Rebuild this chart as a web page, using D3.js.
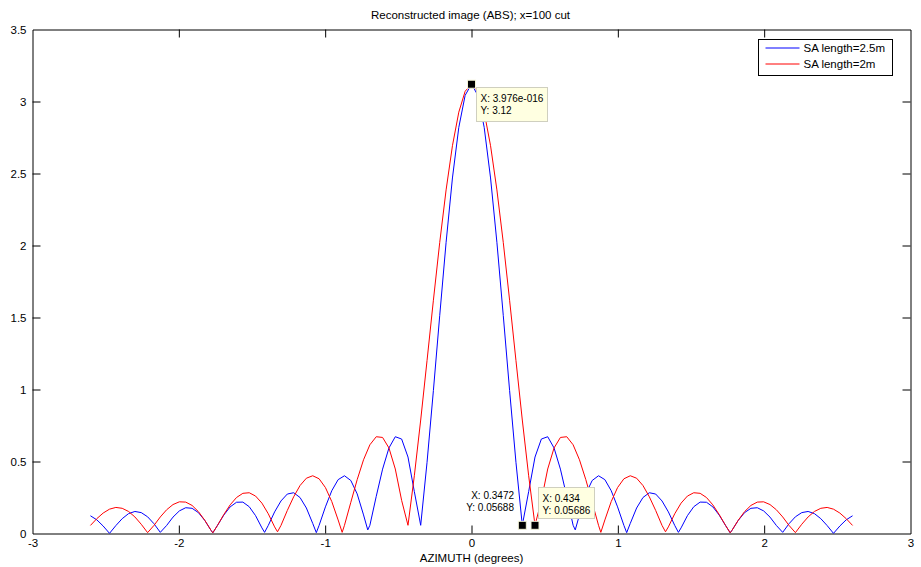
<!DOCTYPE html>
<html>
<head>
<meta charset="utf-8">
<script src="https://cdn.jsdelivr.net/npm/d3@7"></script>
<style>
  html, body { margin: 0; padding: 0; background: #ffffff; }
  svg { display: block; font-family: "Liberation Sans", Arial, Helvetica, sans-serif; }
</style>
</head>
<body>
<svg id="chart" width="921" height="567"></svg>
<script>
// Azimuth sample grid (degrees) shared by both cuts
const azimuth = [
  -2.6040, -2.5606, -2.5172, -2.4738, -2.4304, -2.3870, -2.3436, -2.3002, -2.2568, -2.2134,
  -2.1700, -2.1266, -2.0832, -2.0398, -1.9964, -1.9530, -1.9096, -1.8662, -1.8228, -1.7794,
  -1.7360, -1.6926, -1.6492, -1.6058, -1.5624, -1.5190, -1.4756, -1.4322, -1.3888, -1.3454,
  -1.3020, -1.2586, -1.2152, -1.1718, -1.1284, -1.0850, -1.0416, -0.9982, -0.9548, -0.9114,
  -0.8680, -0.8246, -0.7812, -0.7378, -0.6944, -0.6510, -0.6076, -0.5642, -0.5208, -0.4774,
  -0.4340, -0.3906, -0.3472, -0.3038, -0.2604, -0.2170, -0.1736, -0.1302, -0.0868, -0.0434,
  0,
  0.0434, 0.0868, 0.1302, 0.1736, 0.2170, 0.2604, 0.3038, 0.3472, 0.3906, 0.4340,
  0.4774, 0.5208, 0.5642, 0.6076, 0.6510, 0.6944, 0.7378, 0.7812, 0.8246, 0.8680,
  0.9114, 0.9548, 0.9982, 1.0416, 1.0850, 1.1284, 1.1718, 1.2152, 1.2586, 1.3020,
  1.3454, 1.3888, 1.4322, 1.4756, 1.5190, 1.5624, 1.6058, 1.6492, 1.6926, 1.7360,
  1.7794, 1.8228, 1.8662, 1.9096, 1.9530, 1.9964, 2.0398, 2.0832, 2.1266, 2.1700,
  2.2134, 2.2568, 2.3002, 2.3436, 2.3870, 2.4304, 2.4738, 2.5172, 2.5606, 2.6040
];

// |image| along the cut, synthetic aperture length 2.5 m
const absLong = [
  0.123, 0.095, 0.052, 0.001, 0.055, 0.103, 0.138, 0.153, 0.145, 0.116,
  0.068, 0.008, 0.056, 0.114, 0.157, 0.179, 0.175, 0.145, 0.091, 0.021,
  0.056, 0.128, 0.185, 0.217, 0.218, 0.186, 0.124, 0.039, 0.056, 0.150,
  0.226, 0.274, 0.283, 0.250, 0.177, 0.070, 0.056, 0.185, 0.297, 0.374,
  0.401, 0.368, 0.275, 0.129, 0.057, 0.258, 0.447, 0.594, 0.672, 0.656,
  0.531, 0.291, 0.05688, 0.494, 0.993, 1.515, 2.022, 2.469, 2.820, 3.043,
  3.12,
  3.043, 2.820, 2.469, 2.022, 1.515, 0.993, 0.494, 0.05688, 0.291, 0.531,
  0.656, 0.672, 0.594, 0.447, 0.258, 0.057, 0.129, 0.275, 0.368, 0.401,
  0.374, 0.297, 0.185, 0.056, 0.070, 0.177, 0.250, 0.283, 0.274, 0.226,
  0.150, 0.056, 0.039, 0.124, 0.186, 0.218, 0.217, 0.185, 0.128, 0.056,
  0.021, 0.091, 0.145, 0.175, 0.179, 0.157, 0.114, 0.056, 0.008, 0.068,
  0.116, 0.145, 0.153, 0.138, 0.103, 0.055, 0.001, 0.052, 0.095, 0.123
];

// |image| along the cut, synthetic aperture length 2 m
const absShort = [
  0.056, 0.103, 0.142, 0.169, 0.181, 0.175, 0.153, 0.115, 0.064, 0.006,
  0.056, 0.115, 0.165, 0.201, 0.220, 0.218, 0.195, 0.152, 0.092, 0.021,
  0.056, 0.132, 0.199, 0.250, 0.279, 0.283, 0.260, 0.211, 0.137, 0.046,
  0.056, 0.160, 0.255, 0.333, 0.384, 0.401, 0.380, 0.319, 0.222, 0.094,
  0.057, 0.217, 0.374, 0.512, 0.616, 0.672, 0.667, 0.594, 0.448, 0.230,
  0.05686, 0.401, 0.788, 1.201, 1.620, 2.022, 2.386, 2.693, 2.926, 3.071,
  3.12,
  3.071, 2.926, 2.693, 2.386, 2.022, 1.620, 1.201, 0.788, 0.401, 0.05686,
  0.230, 0.448, 0.594, 0.667, 0.672, 0.616, 0.512, 0.374, 0.217, 0.057,
  0.094, 0.222, 0.319, 0.380, 0.401, 0.384, 0.333, 0.255, 0.160, 0.056,
  0.046, 0.137, 0.211, 0.260, 0.283, 0.279, 0.250, 0.199, 0.132, 0.056,
  0.021, 0.092, 0.152, 0.195, 0.218, 0.220, 0.201, 0.165, 0.115, 0.056,
  0.006, 0.064, 0.115, 0.153, 0.175, 0.181, 0.169, 0.142, 0.103, 0.056
];

// Extra samples at the deep side-lobe nulls
const longNullAzimuth = [-1.7675, -1.4140, -1.0605, -0.7090, 0.7090, 1.0605, 1.4140, 1.7675];
const longNullAbs     = [0.005, 0.008, 0.006, 0.025, 0.025, 0.006, 0.008, 0.005];
const shortNullAzimuth = [-1.7676, -1.3257, -0.8838, 0.8838, 1.3257, 1.7676];
const shortNullAbs     = [0.005, 0.012, 0.008, 0.008, 0.012, 0.005];

const seriesNames = ["SA length=2.5m", "SA length=2m"];
const seriesColors = ["#0000ff", "#ff0000"];

const xTicks = [-3, -2, -1, 0, 1, 2, 3];
const yTicks = [0, 0.5, 1, 1.5, 2, 2.5, 3, 3.5];

// Data cursors: X / Y readouts as shown in the tips
const tipX = ["3.976e-016", "0.3472", "0.434"];
const tipY = ["3.12", "0.05688", "0.05686"];
const tipSide = ["below-right", "above-left", "above-right"];

const titleText = "Reconstructed image (ABS); x=100 cut";
const xLabelText = "AZIMUTH (degrees)";

// ---------------------------------------------------------------
const svg = d3.select("#chart");
const W = 921, H = 567;
const plot = { left: 32.5, right: 910.5, top: 29.5, bottom: 533.5 };

svg.append("rect").attr("width", W).attr("height", H).attr("fill", "#ffffff");

const x = d3.scaleLinear().domain([-3, 3]).range([plot.left, plot.right]);
const y = d3.scaleLinear().domain([0, 3.5]).range([plot.bottom, plot.top]);

function mergePoints(xs, ys, nx, ny) {
  const pts = xs.map((v, i) => [v, ys[i]]);
  nx.forEach((v, i) => pts.push([v, ny[i]]));
  return pts.sort((a, b) => a[0] - b[0]);
}

const series = [
  mergePoints(azimuth, absLong, longNullAzimuth, longNullAbs),
  mergePoints(azimuth, absShort, shortNullAzimuth, shortNullAbs)
];

// plot frame
svg.append("rect")
  .attr("x", plot.left).attr("y", plot.top)
  .attr("width", plot.right - plot.left).attr("height", plot.bottom - plot.top)
  .attr("fill", "#ffffff").attr("stroke", "none");

const tickLen = 8;
const fontSize = "11.5px";

// bottom axis
const gx = svg.append("g").attr("transform", `translate(0,${plot.bottom})`)
  .call(d3.axisBottom(x).tickValues(xTicks).tickFormat(d => String(d))
        .tickSizeInner(-tickLen).tickSizeOuter(0).tickPadding(5));
// left axis
const gy = svg.append("g").attr("transform", `translate(${plot.left},0)`)
  .call(d3.axisLeft(y).tickValues(yTicks).tickFormat(d => String(d))
        .tickSizeInner(-tickLen).tickSizeOuter(0).tickPadding(6));
// top & right axes: inward ticks, no labels
const gt = svg.append("g").attr("transform", `translate(0,${plot.top})`)
  .call(d3.axisTop(x).tickValues(xTicks).tickFormat("")
        .tickSizeInner(-tickLen).tickSizeOuter(0));
const gr = svg.append("g").attr("transform", `translate(${plot.right},0)`)
  .call(d3.axisRight(y).tickValues(yTicks).tickFormat("")
        .tickSizeInner(-tickLen).tickSizeOuter(0));

[gx, gy, gt, gr].forEach(g => {
  g.selectAll(".domain").attr("stroke", "#000").attr("stroke-width", 1);
  g.selectAll(".tick line").attr("stroke", "#000").attr("stroke-width", 1);
  g.selectAll(".tick text").attr("fill", "#000").style("font-size", fontSize)
    .style("font-family", '"Liberation Sans", Arial, sans-serif');
});
// drop the end ticks that coincide with the frame
gx.selectAll(".tick").filter(d => d === -3 || d === 3).select("line").remove();
gt.selectAll(".tick").filter(d => d === -3 || d === 3).select("line").remove();
gy.selectAll(".tick").filter(d => d === 0 || d === 3.5).select("line").remove();
gr.selectAll(".tick").filter(d => d === 0 || d === 3.5).select("line").remove();

// curves
const line = d3.line().x(d => x(d[0])).y(d => y(d[1])).curve(d3.curveLinear);
series.forEach((pts, i) => {
  svg.append("path")
    .datum(pts)
    .attr("d", line)
    .attr("fill", "none")
    .attr("stroke", seriesColors[i])
    .attr("stroke-width", 1)
    .attr("stroke-linejoin", "round");
});

// title and axis label
svg.append("text")
  .attr("x", x(0) - 1).attr("y", 19)
  .attr("text-anchor", "middle")
  .style("font-size", fontSize).attr("fill", "#000")
  .text(titleText);

svg.append("text")
  .attr("x", x(0)).attr("y", 562)
  .attr("text-anchor", "middle")
  .style("font-size", fontSize).attr("fill", "#000")
  .text(xLabelText);

// legend
const lg = svg.append("g").attr("transform", "translate(758.5,39.5)");
lg.append("rect").attr("width", 134).attr("height", 36)
  .attr("fill", "#ffffff").attr("stroke", "#000").attr("stroke-width", 1);
seriesNames.forEach((name, i) => {
  const yy = 8.5 + i * 16;
  lg.append("line").attr("x1", 7).attr("x2", 41).attr("y1", yy).attr("y2", yy)
    .attr("stroke", seriesColors[i]).attr("stroke-width", 1);
  lg.append("text").attr("x", 45).attr("y", yy + 4)
    .style("font-size", fontSize).attr("fill", "#000").text(name);
});

// data tips
const tipFont = 10;
tipX.forEach((tx, i) => {
  const vx = +tx, vy = +tipY[i];
  const px = x(vx), py = y(vy);
  const g = svg.append("g");
  const lines = ["X: " + tx, "Y: " + tipY[i]];
  const side = tipSide[i];

  const txt = g.append("g");
  let bx, by;
  const lineH = 12.4;
  const tmp = txt.append("text").style("font-size", tipFont + "px").text(lines[0]);
  const tmp2 = txt.append("text").style("font-size", tipFont + "px").text(lines[1]);
  const tw = Math.max(tmp.node().getComputedTextLength(), tmp2.node().getComputedTextLength());
  tmp.remove(); tmp2.remove();
  const bw = Math.round(tw + 8), bh = 34;

  if (side === "below-right") { bx = Math.round(px) + 4.5; by = Math.round(py) + 3.5; }
  else if (side === "above-right") { bx = Math.round(px) + 3.5; by = Math.round(py) - 37.5; }
  else { bx = Math.round(px) - bw - 6; by = Math.round(py) - 40.5; }

  if (side !== "above-left") {
    g.append("rect").attr("x", bx).attr("y", by).attr("width", bw).attr("height", bh - (side === "above-right" ? 3 : 0))
      .attr("fill", "#ffffe1").attr("stroke", "#cfcfbf").attr("stroke-width", 1);
  }
  lines.forEach((s, k) => {
    g.append("text")
      .attr("x", side === "above-left" ? bx + bw - 2 : bx + 4)
      .attr("y", by + 14.5 + k * lineH - (side === "above-right" ? 0.5 : 0))
      .attr("text-anchor", side === "above-left" ? "end" : "start")
      .style("font-size", tipFont + "px").attr("fill", "#000")
      .text(s);
  });

  // cursor marker
  g.append("rect")
    .attr("x", px - 4).attr("y", py - 4).attr("width", 8).attr("height", 8)
    .attr("fill", "#000").attr("stroke", "#f4f4d8").attr("stroke-width", 1);
});
</script>
</body>
</html>
